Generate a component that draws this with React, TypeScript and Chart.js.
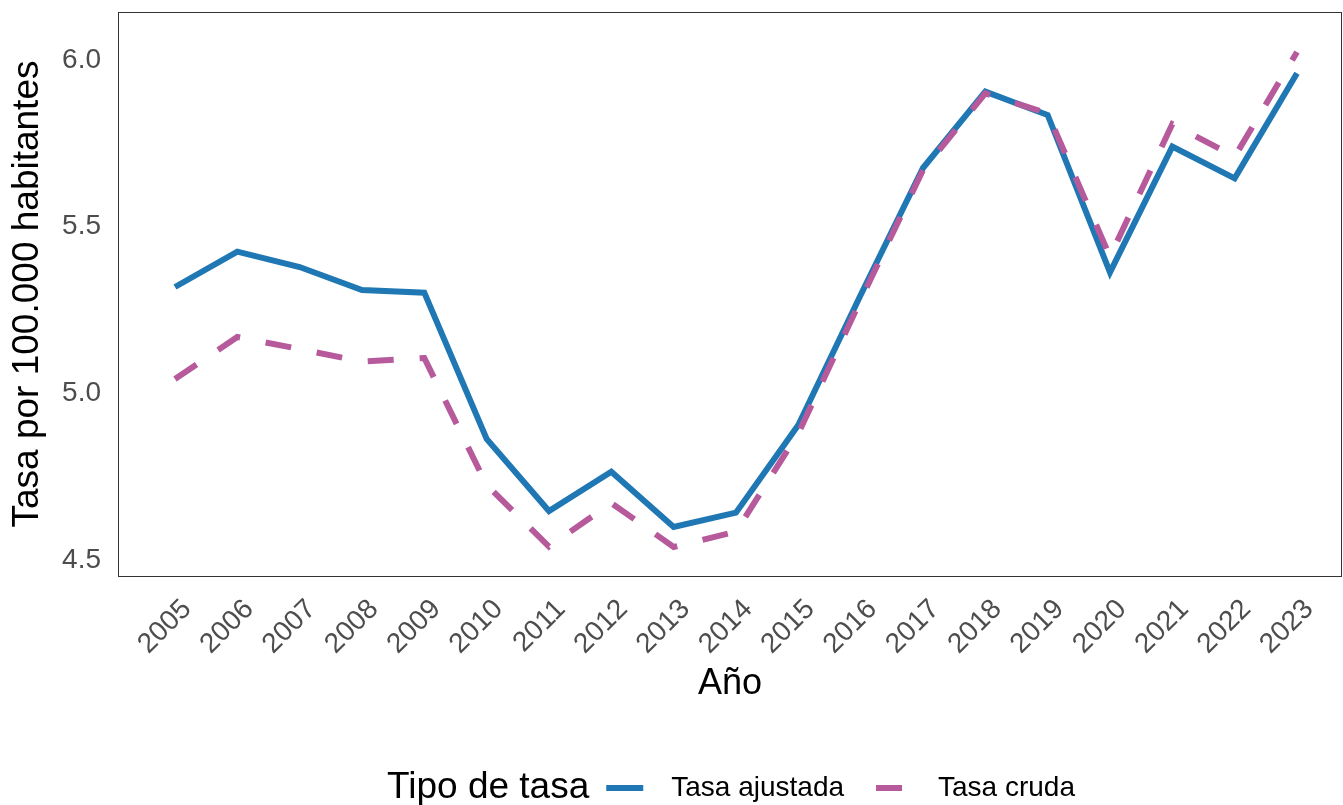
import { useEffect, useRef } from "react";
import { Chart, registerables } from "chart.js";

Chart.register(...registerables);

const years = [2005, 2006, 2007, 2008, 2009, 2010, 2011, 2012, 2013, 2014, 2015, 2016, 2017, 2018, 2019, 2020, 2021, 2022, 2023];
const tasaAjustada = [5.319, 5.425, 5.379, 5.31, 5.302, 4.863, 4.647, 4.765, 4.599, 4.642, 4.905, 5.295, 5.676, 5.905, 5.835, 5.363, 5.74, 5.645, 5.96];
const tasaCruda = [5.043, 5.169, 5.133, 5.095, 5.106, 4.725, 4.54, 4.671, 4.539, 4.585, 4.88, 5.28, 5.67, 5.9, 5.84, 5.41, 5.808, 5.71, 6.024];
const yTicks = [4.5, 5.0, 5.5, 6.0];
const seriesNames = ["Tasa ajustada", "Tasa cruda"];
const legendTitle = "Tipo de tasa";
const xTitle = "Año";
const yTitle = "Tasa por 100.000 habitantes";

const BLUE = "#1f78b4";
const PINK = "#b65a9c";
const FAMILY = "'Liberation Sans', Arial, Helvetica, sans-serif";

const borderPlugin = {
  id: "panelBorder",
  afterDraw(chart: any) {
    const { ctx, chartArea } = chart;
    ctx.save();
    ctx.strokeStyle = "#333333";
    ctx.lineWidth = 1;
    ctx.strokeRect(
      Math.round(chartArea.left) + 0.5,
      Math.round(chartArea.top) + 0.5,
      Math.round(chartArea.right - chartArea.left) - 1,
      Math.round(chartArea.bottom - chartArea.top)
    );
    ctx.restore();
  },
};

const legendPlugin = {
  id: "bottomLegend",
  afterDraw(chart: any) {
    const { ctx } = chart;
    const y = 788;
    const keyW = 37;
    ctx.save();
    ctx.textBaseline = "middle";
    ctx.textAlign = "left";
    ctx.font = `37px ${FAMILY}`;
    const tW = ctx.measureText(legendTitle).width;
    ctx.font = `28px ${FAMILY}`;
    const l1 = ctx.measureText(seriesNames[0]).width;
    const l2 = ctx.measureText(seriesNames[1]).width;
    const total = tW + 17 + keyW + 28 + l1 + 32 + keyW + 25 + l2;
    let x = 731 - total / 2;
    ctx.fillStyle = "#000000";
    ctx.font = `37px ${FAMILY}`;
    ctx.fillText(legendTitle, x, y);
    x += tW + 17;
    const ds = chart.data.datasets;
    const items = [
      { key: ds[0], w: l1, gap: 32 },
      { key: ds[1], w: l2, gap: 0 },
    ];
    items.forEach((it: any, i: number) => {
      ctx.strokeStyle = it.key.borderColor;
      ctx.lineWidth = 6;
      ctx.lineCap = "butt";
      ctx.setLineDash(it.key.borderDash || []);
      ctx.beginPath();
      ctx.moveTo(x, y);
      ctx.lineTo(x + keyW, y);
      ctx.stroke();
      ctx.setLineDash([]);
      x += keyW + (i === 0 ? 28 : 25);
      ctx.fillStyle = "#000000";
      ctx.font = `28px ${FAMILY}`;
      ctx.fillText(seriesNames[i], x, y);
      x += it.w + it.gap;
    });
    ctx.restore();
  },
};

export default function App() {
  const canvasRef = useRef<HTMLCanvasElement | null>(null);

  useEffect(() => {
    document.body.style.margin = "0";
    const canvas = canvasRef.current;
    if (!canvas) return;
    Chart.defaults.font.family = FAMILY;
    const chart = new Chart(canvas, {
      type: "line",
      data: {
        datasets: [
          {
            label: seriesNames[0],
            data: years.map((yr, i) => ({ x: yr, y: tasaAjustada[i] })),
            borderColor: BLUE,
            backgroundColor: BLUE,
            borderWidth: 6,
            pointRadius: 0,
            tension: 0,
            borderCapStyle: "butt",
            borderJoinStyle: "miter",
            order: 2,
          },
          {
            label: seriesNames[1],
            data: years.map((yr, i) => ({ x: yr, y: tasaCruda[i] })),
            borderColor: PINK,
            backgroundColor: PINK,
            borderWidth: 6,
            borderDash: [26, 26],
            pointRadius: 0,
            tension: 0,
            borderCapStyle: "butt",
            borderJoinStyle: "miter",
            order: 1,
          },
        ],
      },
      options: {
        responsive: false,
        animation: false,
        layout: { padding: { left: 0, right: 1, top: 12, bottom: 99 } },
        plugins: {
          legend: { display: false },
          tooltip: { enabled: false },
        },
        scales: {
          x: {
            type: "linear",
            min: 2004.086,
            max: 2023.722,
            grid: { display: false, drawTicks: false },
            border: { display: false },
            afterBuildTicks: (scale: any) => {
              scale.ticks = years.map((v) => ({ value: v }));
            },
            afterFit: (scale: any) => {
              scale.height = 130;
              scale.paddingLeft = 0;
              scale.paddingRight = 0;
            },
            ticks: {
              autoSkip: false,
              maxRotation: 45,
              minRotation: 45,
              padding: 17,
              labelOffset: 12,
              color: "#4d4d4d",
              font: { size: 28 },
              callback: (v: any) => String(v),
            },
            title: {
              display: true,
              text: xTitle,
              color: "#000000",
              font: { size: 36 },
              padding: { top: 0, bottom: 0 },
            },
          },
          y: {
            type: "linear",
            min: 4.452,
            max: 6.144,
            grid: { display: false, drawTicks: false },
            border: { display: false },
            afterBuildTicks: (scale: any) => {
              scale.ticks = yTicks.map((v) => ({ value: v }));
            },
            afterFit: (scale: any) => {
              scale.width = 118;
              scale.paddingTop = 0;
              scale.paddingBottom = 0;
            },
            ticks: {
              padding: 17,
              color: "#4d4d4d",
              font: { size: 28 },
              callback: (v: any) => Number(v).toFixed(1),
            },
            title: {
              display: true,
              text: yTitle,
              color: "#000000",
              font: { size: 37 },
              padding: { top: 6, bottom: 0 },
            },
          },
        },
      },
      plugins: [borderPlugin, legendPlugin],
    } as any);
    return () => chart.destroy();
  }, []);

  return (
    <div style={{ position: "absolute", left: 0, top: 0, width: 1343, height: 805 }}>
      <canvas ref={canvasRef} width={1343} height={805} />
    </div>
  );
}
